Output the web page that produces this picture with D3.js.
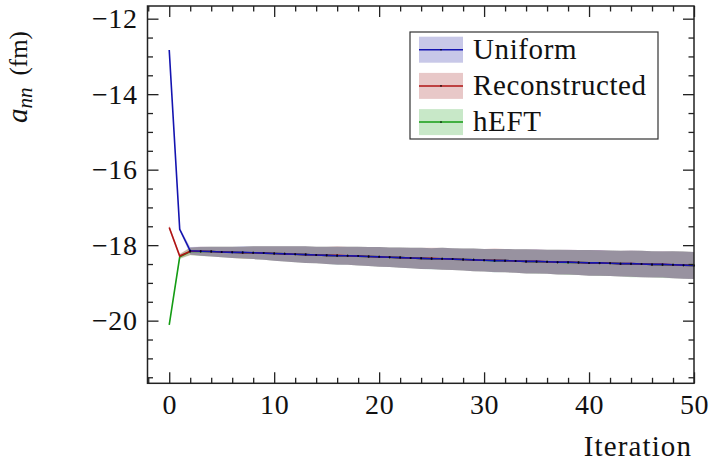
<!DOCTYPE html>
<html>
<head>
<meta charset="utf-8">
<script src="https://cdn.jsdelivr.net/npm/d3@7"></script>
<style>
  body { margin: 0; background: #fff; }
  svg text { font-family: "Liberation Serif", "Times New Roman", serif; fill: #111; }
</style>
</head>
<body>
<svg id="chart" width="712" height="465"></svg>
<script>
// iteration number
var iterations = d3.range(0, 51);

// mean a_nn per iteration
var uniformMean = [-12.83, -17.58, -18.15, -18.16, -18.17, -18.18, -18.19, -18.19, -18.20, -18.21,
  -18.22, -18.23, -18.24, -18.25, -18.26, -18.27, -18.28, -18.28, -18.29, -18.30,
  -18.31, -18.32, -18.33, -18.34, -18.35, -18.36, -18.36, -18.37, -18.38, -18.39,
  -18.40, -18.41, -18.41, -18.42, -18.43, -18.43, -18.44, -18.45, -18.45, -18.46,
  -18.47, -18.47, -18.48, -18.49, -18.49, -18.50, -18.51, -18.51, -18.52, -18.53, -18.54];
var reconstructedMean = [-17.53, -18.29, -18.16, -18.16, -18.17, -18.18, -18.19, -18.20, -18.20, -18.21,
  -18.22, -18.23, -18.24, -18.25, -18.26, -18.27, -18.27, -18.28, -18.29, -18.30,
  -18.31, -18.32, -18.33, -18.34, -18.35, -18.35, -18.36, -18.37, -18.38, -18.39,
  -18.40, -18.40, -18.41, -18.42, -18.43, -18.43, -18.44, -18.45, -18.45, -18.46,
  -18.47, -18.47, -18.48, -18.49, -18.49, -18.50, -18.51, -18.51, -18.52, -18.53, -18.54];
var heftMean = [-20.11, -18.31, -18.17, -18.17, -18.17, -18.18, -18.19, -18.20, -18.20, -18.21,
  -18.22, -18.23, -18.24, -18.25, -18.26, -18.27, -18.28, -18.28, -18.29, -18.30,
  -18.31, -18.32, -18.33, -18.34, -18.35, -18.36, -18.36, -18.37, -18.38, -18.39,
  -18.40, -18.41, -18.41, -18.42, -18.43, -18.44, -18.44, -18.45, -18.46, -18.46,
  -18.47, -18.48, -18.48, -18.49, -18.50, -18.50, -18.51, -18.52, -18.52, -18.53, -18.54];

// half width of the uncertainty band
var uniformErr = [0.02, 0.04, 0.10, 0.12, 0.13, 0.14, 0.15, 0.16, 0.17, 0.18,
  0.19, 0.20, 0.21, 0.22, 0.22, 0.23, 0.24, 0.24, 0.25, 0.25,
  0.26, 0.26, 0.27, 0.27, 0.28, 0.28, 0.29, 0.29, 0.29, 0.30,
  0.30, 0.31, 0.31, 0.31, 0.32, 0.32, 0.32, 0.33, 0.33, 0.33,
  0.34, 0.34, 0.34, 0.34, 0.35, 0.35, 0.35, 0.35, 0.36, 0.36, 0.36];
var reconstructedErr = [0.06, 0.06, 0.10, 0.12, 0.13, 0.14, 0.15, 0.16, 0.17, 0.18,
  0.19, 0.20, 0.21, 0.22, 0.22, 0.23, 0.24, 0.24, 0.25, 0.25,
  0.26, 0.26, 0.27, 0.27, 0.28, 0.28, 0.29, 0.29, 0.29, 0.30,
  0.30, 0.31, 0.31, 0.31, 0.32, 0.32, 0.32, 0.33, 0.33, 0.33,
  0.34, 0.34, 0.34, 0.34, 0.35, 0.35, 0.35, 0.35, 0.36, 0.36, 0.36];
var heftErr = [0.03, 0.06, 0.10, 0.12, 0.13, 0.14, 0.15, 0.16, 0.17, 0.18,
  0.19, 0.20, 0.21, 0.22, 0.22, 0.23, 0.24, 0.24, 0.25, 0.25,
  0.26, 0.26, 0.27, 0.27, 0.28, 0.28, 0.29, 0.29, 0.29, 0.30,
  0.30, 0.31, 0.31, 0.31, 0.32, 0.32, 0.32, 0.33, 0.33, 0.33,
  0.34, 0.34, 0.34, 0.34, 0.35, 0.35, 0.35, 0.35, 0.36, 0.36, 0.36];

var seriesNames = ["Uniform", "Reconstructed", "hEFT"];
var xTicks = [0, 10, 20, 30, 40, 50];
var yTicks = [-20, -18, -16, -14, -12];

var series = [
  { name: "Uniform", mean: uniformMean, err: uniformErr, line: "#1414b0", band: "rgb(35,35,163)" },
  { name: "Reconstructed", mean: reconstructedMean, err: reconstructedErr, line: "#b01414", band: "rgb(163,35,35)" },
  { name: "hEFT", mean: heftMean, err: heftErr, line: "#149c14", band: "rgb(35,163,35)" }
];

var plotLeft = 147.5, plotRight = 694, plotTop = 6, plotBottom = 383.3;

var x = d3.scaleLinear().domain([-2.07, 50]).range([plotLeft, plotRight]);
var y = d3.scaleLinear().domain([-21.66, -11.664]).range([plotBottom, plotTop]);

var svg = d3.select("#chart");

// bands: hEFT first, Uniform last (that gives the grey-purple overlap)
var area = d3.area()
  .x(function(d) { return x(d.it); })
  .y0(function(d) { return y(d.m - d.e); })
  .y1(function(d) { return y(d.m + d.e); });

var line = d3.line()
  .x(function(d) { return x(d.it); })
  .y(function(d) { return y(d.m); });

function pts(s) {
  return iterations.map(function(it, i) { return { it: it, m: s.mean[i], e: s.err[i] }; });
}

var drawOrder = series.slice().reverse();

svg.append("g").selectAll("path")
  .data(drawOrder)
  .join("path")
  .attr("d", function(s) { return area(pts(s)); })
  .attr("fill", function(s) { return s.band; })
  .attr("fill-opacity", 0.25);

drawOrder.forEach(function(s) {
  var g = svg.append("g");
  g.append("path")
    .attr("d", line(pts(s)))
    .attr("fill", "none")
    .attr("stroke", s.line)
    .attr("stroke-width", 1.6);
  g.selectAll("circle")
    .data(pts(s).slice(2))
    .join("circle")
    .attr("cx", function(d) { return x(d.it); })
    .attr("cy", function(d) { return y(d.m); })
    .attr("r", 1.0)
    .attr("fill", "#000")
    .attr("fill-opacity", 0.8);
});

// axes with inward ticks on all four sides
var minorX = d3.range(-2, 51, 2).filter(function(v) { return v % 10 !== 0; });
var minorY = d3.range(-21.5, -11.5, 0.5).filter(function(v) { return v % 2 !== 0; });

function styleAxis(g) {
  g.select(".domain").remove();
  g.selectAll(".tick line").attr("stroke", "#222").attr("stroke-width", 1.3);
  g.selectAll(".tick text").style("font-size", "28px").style("letter-spacing", "0.6px").attr("fill", "#111");
}

svg.append("g").attr("transform", "translate(0," + plotBottom + ")")
  .call(d3.axisBottom(x).tickValues(xTicks).tickSize(-11).tickPadding(11).tickFormat(d3.format("d")))
  .call(styleAxis);
svg.append("g").attr("transform", "translate(0," + plotBottom + ")")
  .call(d3.axisBottom(x).tickValues(minorX).tickSize(-5.5).tickFormat(""))
  .call(styleAxis);
svg.append("g").attr("transform", "translate(0," + plotTop + ")")
  .call(d3.axisTop(x).tickValues(xTicks).tickSize(-11).tickFormat(""))
  .call(styleAxis);
svg.append("g").attr("transform", "translate(0," + plotTop + ")")
  .call(d3.axisTop(x).tickValues(minorX).tickSize(-5.5).tickFormat(""))
  .call(styleAxis);

svg.append("g").attr("transform", "translate(" + plotLeft + ",0)")
  .call(d3.axisLeft(y).tickValues(yTicks).tickSize(-11).tickPadding(10).tickFormat(d3.format("d")))
  .call(styleAxis);
svg.append("g").attr("transform", "translate(" + plotLeft + ",0)")
  .call(d3.axisLeft(y).tickValues(minorY).tickSize(-5.5).tickFormat(""))
  .call(styleAxis);
svg.append("g").attr("transform", "translate(" + plotRight + ",0)")
  .call(d3.axisRight(y).tickValues(yTicks).tickSize(-11).tickFormat(""))
  .call(styleAxis);
svg.append("g").attr("transform", "translate(" + plotRight + ",0)")
  .call(d3.axisRight(y).tickValues(minorY).tickSize(-5.5).tickFormat(""))
  .call(styleAxis);

svg.append("rect")
  .attr("x", plotLeft).attr("y", plotTop)
  .attr("width", plotRight - plotLeft).attr("height", plotBottom - plotTop)
  .attr("fill", "none").attr("stroke", "#222").attr("stroke-width", 1.5);

// axis titles
svg.append("text")
  .attr("x", 692).attr("y", 456)
  .attr("text-anchor", "end")
  .style("font-size", "29px")
  .style("letter-spacing", "1.1px")
  .text("Iteration");

var yl = svg.append("text")
  .attr("transform", "translate(27,123) rotate(-90)")
  .style("font-size", "29px");
yl.append("tspan").style("font-style", "italic").text("a");
yl.append("tspan").style("font-style", "italic").style("font-size", "21px").attr("dy", 5).text("nn");
yl.append("tspan").attr("dy", -5).attr("dx", 12).style("font-size", "25px").text("(fm)");

// legend
var legend = svg.append("g");
legend.append("rect")
  .attr("x", 410).attr("y", 32).attr("width", 248).attr("height", 107)
  .attr("fill", "#fff").attr("stroke", "#333").attr("stroke-width", 1.2);

var rows = legend.selectAll("g.row")
  .data(series)
  .join("g")
  .attr("class", "row")
  .attr("transform", function(d, i) { return "translate(0," + (49.7 + i * 36.2) + ")"; });
rows.append("rect")
  .attr("x", 419).attr("y", -13).attr("width", 44).attr("height", 26)
  .attr("fill", function(d) { return d.band; }).attr("fill-opacity", 0.25);
rows.append("line")
  .attr("x1", 419).attr("x2", 463)
  .attr("stroke", function(d) { return d.line; }).attr("stroke-width", 1.5);
rows.append("circle").attr("cx", 441).attr("r", 0.8).attr("fill", "#000");
rows.append("text")
  .attr("x", 473).attr("y", 9)
  .style("font-size", "29px")
  .style("letter-spacing", "0.6px")
  .text(function(d, i) { return seriesNames[i]; });
</script>
</body>
</html>
